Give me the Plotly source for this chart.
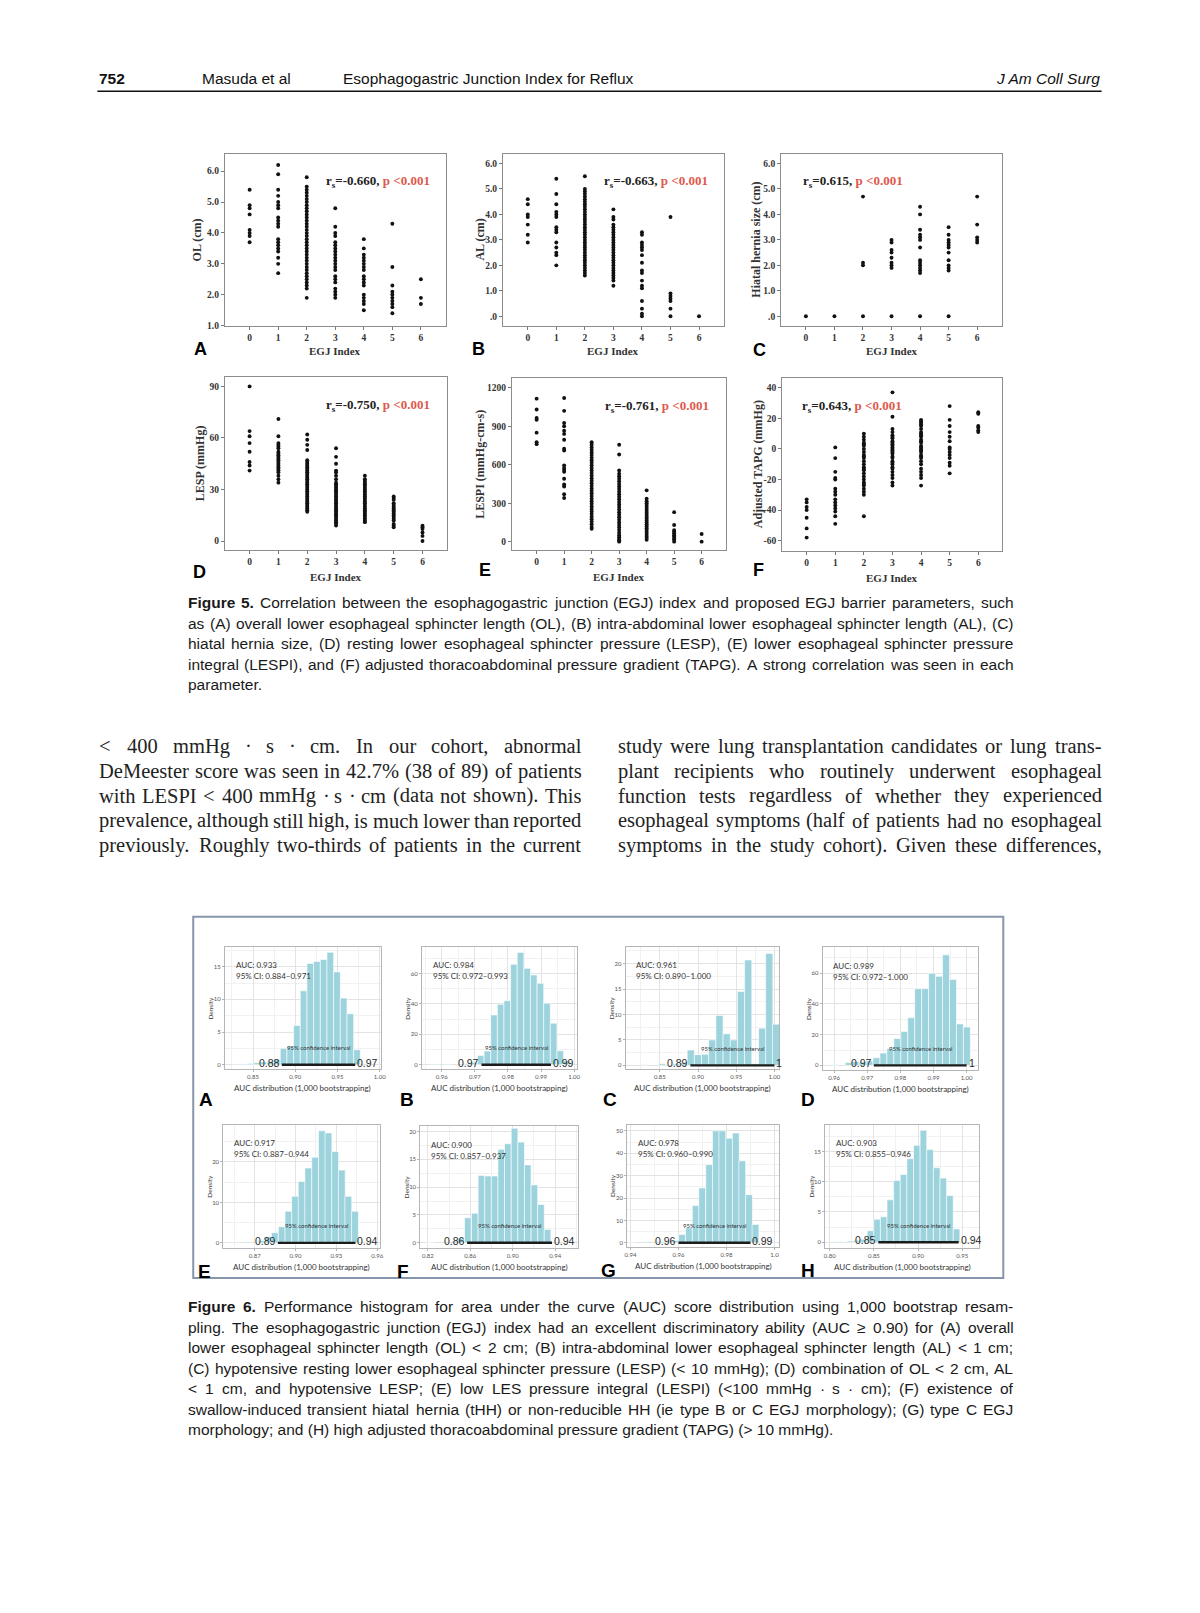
import plotly.graph_objects as go

W, H = 1200, 1613


def fx(x):
    return x / W


def fy(y):
    return 1 - y / H


# ------------------------------------------------------------------ Figure 5 data
EGJ_INDEX = [0, 1, 2, 3, 4, 5, 6]

OL_CM = [
    [5.4, 4.9, 4.8, 4.6, 4.1, 4.0, 3.9, 3.7],
    [6.2, 5.9, 5.4, 5.2, 5.0, 4.9, 4.8, 4.5, 4.4, 4.3, 4.2, 3.8, 3.7, 3.6, 3.5, 3.4, 3.2, 3.0, 2.7],
    [5.8, 5.5, 5.4, 5.3, 5.2, 5.1, 5.0, 4.9, 4.8, 4.7, 4.6, 4.5, 4.4, 4.3, 4.2, 4.1, 4.0, 3.9, 3.8, 3.7,
     3.6, 3.5, 3.4, 3.3, 3.2, 3.1, 3.0, 2.9, 2.8, 2.7, 2.6, 2.5, 2.4, 2.3, 2.2, 1.9],
    [4.8, 4.2, 4.0, 3.9, 3.7, 3.6, 3.5, 3.4, 3.3, 3.2, 3.1, 3.0, 2.9, 2.8, 2.6, 2.5, 2.4, 2.2, 2.1, 2.0, 1.9],
    [3.8, 3.5, 3.3, 3.2, 3.1, 3.0, 2.9, 2.8, 2.6, 2.5, 2.4, 2.3, 2.0, 1.9, 1.8, 1.7, 1.5],
    [4.3, 2.9, 2.3, 2.1, 2.0, 1.9, 1.8, 1.7, 1.6, 1.4],
    [2.5, 1.9, 1.7],
]
AL_CM = [
    [4.6, 4.4, 4.0, 3.9, 3.6, 3.2, 2.9],
    [5.4, 4.8, 4.4, 4.1, 4.0, 3.9, 3.5, 3.4, 3.3, 2.9, 2.7, 2.5, 2.4, 2.0],
    [5.5, 5.0, 4.9, 4.8, 4.7, 4.6, 4.5, 4.4, 4.3, 4.2, 4.1, 4.0, 3.9, 3.8, 3.7, 3.6, 3.5, 3.4, 3.3, 3.2,
     3.1, 3.0, 2.9, 2.8, 2.7, 2.6, 2.5, 2.4, 2.3, 2.2, 2.1, 2.0, 1.9, 1.8, 1.7, 1.6],
    [4.2, 3.9, 3.8, 3.6, 3.5, 3.4, 3.3, 3.2, 3.1, 3.0, 2.9, 2.8, 2.7, 2.6, 2.5, 2.4, 2.3, 2.2, 2.1, 2.0,
     1.9, 1.8, 1.7, 1.6, 1.5, 1.4, 1.2],
    [3.3, 3.2, 2.9, 2.8, 2.7, 2.6, 2.4, 2.1, 1.8, 1.7, 1.4, 1.2, 1.1, 0.6, 0.3, 0.1, 0.0],
    [3.9, 0.9, 0.8, 0.7, 0.6, 0.3, 0.0],
    [0.0],
]
HH_CM = [
    [0.0],
    [0.0],
    [4.7, 2.1, 2.0, 0.0],
    [3.0, 2.9, 2.6, 2.5, 2.3, 2.1, 2.0, 1.9, 0.0],
    [4.3, 4.0, 3.4, 3.2, 3.1, 3.0, 2.7, 2.2, 2.1, 2.0, 1.9, 1.8, 1.7, 0.0],
    [3.5, 3.2, 3.0, 2.9, 2.8, 2.7, 2.5, 2.2, 2.0, 1.9, 1.8, 0.0],
    [4.7, 3.6, 3.1, 3.0, 2.9],
]
LESP_MMHG = [
    [90, 64, 61, 57, 52, 46, 44, 41],
    [71, 61, 57, 56, 55, 54, 52, 51, 50, 49, 48, 47, 46, 45, 44, 43, 42, 41, 40, 38, 36, 34],
    [62, 59, 56, 53, 47, 46, 45, 44, 43, 42, 41, 40, 39, 38, 37, 36, 35, 34, 33, 32, 31, 30, 29, 28, 27,
     26, 25, 24, 23, 22, 21, 20, 19, 18, 17],
    [54, 49, 45, 41, 40, 38, 36, 34, 33, 32, 31, 30, 29, 28, 27, 26, 25, 24, 23, 22, 21, 20, 19, 18, 17,
     16, 15, 14, 13, 12, 11, 10, 9],
    [38, 36, 35, 34, 33, 32, 31, 30, 29, 28, 27, 26, 25, 24, 23, 22, 21, 20, 19, 18, 17, 16, 15, 14, 13, 12, 11],
    [26, 25, 24, 22, 21, 20, 19, 18, 17, 16, 15, 14, 13, 12, 10, 9, 8],
    [9, 8, 7, 5, 3, 0],
]
LESPI_MMHG_CM_S = [
    [1115, 1030, 965, 950, 850, 775, 760],
    [1120, 1020, 925, 900, 865, 840, 795, 725, 710, 595, 575, 560, 545, 490, 445, 430, 370, 340],
    [775, 755, 735, 715, 695, 675, 655, 635, 615, 595, 575, 555, 535, 515, 495, 475, 455, 435, 415, 395,
     375, 355, 335, 315, 295, 275, 255, 235, 215, 195, 175, 155, 135, 115, 100],
    [755, 680, 555, 530, 510, 490, 470, 450, 430, 410, 390, 370, 350, 330, 310, 290, 270, 250, 230, 210,
     190, 170, 150, 130, 110, 90, 70, 50, 35, 20, 10, 0],
    [400, 335, 315, 300, 285, 270, 255, 240, 225, 210, 195, 180, 165, 150, 135, 120, 105, 90, 75, 60, 45, 30, 15],
    [230, 130, 90, 80, 65, 50, 40, 25, 15, 0],
    [60, 0],
]
TAPG_MMHG = [
    [-33, -35, -38, -40, -45, -52, -58],
    [1, -6, -15, -19, -20, -26, -28, -30, -33, -35, -37, -39, -41, -44, -49],
    [10, 8, 6, 4, 3, 2, 0, -2, -4, -5, -6, -8, -10, -12, -13, -14, -16, -18, -20, -22, -23, -24, -26,
     -28, -30, -44],
    [37, 21, 13, 11, 9, 8, 7, 5, 4, 3, 2, 1, 0, -1, -2, -3, -5, -6, -8, -9, -10, -12, -13, -15, -17,
     -19, -22, -24],
    [19, 18, 17, 16, 15, 13, 11, 10, 9, 8, 6, 5, 4, 2, 1, 0, -1, -2, -4, -5, -6, -8, -10, -13, -15,
     -17, -19, -24],
    [28, 19, 15, 11, 8, 5, 1, 0, -2, -4, -6, -9, -11, -16],
    [24, 23, 15, 14, 12, 11],
]

FIG5_YTITLES = ["OL (cm)", "AL (cm)", "Hiatal hernia size (cm)", "LESP (mmHg)",
                "LESPI (mmHg-cm-s)", "Adjusted TAPG (mmHg)"]
FIG5_RS = ["-0.660", "-0.663", "0.615", "-0.750", "-0.761", "0.643"]
FIG5_P = ["&lt;0.001"] * 6
FIG5_LETTERS = ["A", "B", "C", "D", "E", "F"]
FIG5_YTICKS = [
    [1, 2, 3, 4, 5, 6], [0, 1, 2, 3, 4, 5, 6], [0, 1, 2, 3, 4, 5, 6],
    [0, 30, 60, 90], [0, 300, 600, 900, 1200], [-60, -40, -20, 0, 20, 40],
]
FIG5_YTICKTEXT = [
    ["1.0", "2.0", "3.0", "4.0", "5.0", "6.0"],
    [".0", "1.0", "2.0", "3.0", "4.0", "5.0", "6.0"],
    [".0", "1.0", "2.0", "3.0", "4.0", "5.0", "6.0"],
    ["0", "30", "60", "90"], ["0", "300", "600", "900", "1200"],
    ["-60", "-40", "-20", "0", "20", "40"],
]

# ------------------------------------------------------------------ Figure 6 data
AUC = ["0.933", "0.984", "0.961", "0.989", "0.917", "0.900", "0.978", "0.903"]
CI_TEXT = ["0.884–0.971", "0.972–0.993", "0.890–1.000", "0.972–1.000",
           "0.887–0.944", "0.857–0.937", "0.960–0.990", "0.855–0.946"]
CI_LOW = [0.884, 0.972, 0.890, 0.972, 0.887, 0.857, 0.960, 0.855]
CI_HIGH = [0.971, 0.993, 1.000, 1.000, 0.944, 0.937, 0.990, 0.946]
CI_LOW_LABEL = ["0.88", "0.97", "0.89", "0.97", "0.89", "0.86", "0.96", "0.85"]
CI_HIGH_LABEL = ["0.97", "0.99", "1", "1", "0.94", "0.94", "0.99", "0.94"]
FIG6_LETTERS = ["A", "B", "C", "D", "E", "F", "G", "H"]

BIN_WIDTH = [0.0079, 0.002, 0.0094, 0.0021, 0.005, 0.00624, 0.00283, 0.0075]
BIN_CENTERS = [
    [0.8309, 0.8388, 0.8467, 0.8546, 0.8625, 0.8704, 0.8783, 0.8862, 0.8941, 0.9020, 0.9099, 0.9178,
     0.9257, 0.9336, 0.9415, 0.9494, 0.9573, 0.9652, 0.9731],
    [0.9578, 0.9618, 0.9678, 0.9698, 0.9718, 0.9738, 0.9758, 0.9778, 0.9798, 0.9818, 0.9838, 0.9858,
     0.9878, 0.9898, 0.9918, 0.9938, 0.9958, 0.9978],
    [0.8295, 0.8530, 0.8717, 0.8811, 0.8905, 0.8999, 0.9093, 0.9187, 0.9281, 0.9375, 0.9469, 0.9563,
     0.9657, 0.9749, 0.9841, 0.9933, 1.0023],
    [0.9602, 0.9644, 0.9665, 0.9686, 0.9707, 0.9728, 0.9749, 0.9770, 0.9791, 0.9812, 0.9833, 0.9854,
     0.9875, 0.9896, 0.9917, 0.9938, 0.9959, 0.9980, 1.0001],
    [0.8554, 0.8700, 0.8750, 0.8799, 0.8848, 0.8899, 0.8948, 0.8997, 0.9045, 0.9094, 0.9144, 0.9194,
     0.9242, 0.9291, 0.9340, 0.9388, 0.9437],
    [0.8220, 0.8452, 0.8515, 0.8577, 0.8643, 0.8705, 0.8767, 0.8830, 0.8892, 0.8954, 0.9017, 0.9079,
     0.9141, 0.9204, 0.9266, 0.9328],
    [0.9407, 0.9476, 0.9545, 0.9587, 0.9615, 0.9644, 0.9672, 0.9699, 0.9728, 0.9756, 0.9783, 0.9811,
     0.9839, 0.9866, 0.9894, 0.9921],
    [0.8086, 0.8236, 0.8311, 0.8386, 0.8461, 0.8536, 0.8611, 0.8686, 0.8761, 0.8836, 0.8911, 0.8986,
     0.9061, 0.9136, 0.9211, 0.9286, 0.9361, 0.9436],
]
BIN_DENSITY = [
    [0.1, 0.1, 0.2, 0.3, 0.4, 0.5, 0.8, 2.5, 2.8, 6.0, 11.3, 15.5, 15.8, 16.1, 17.2, 14.2, 10.2, 7.8, 2.3],
    [0.5, 0.5, 0.8, 1.5, 6.0, 9.0, 32.7, 39.7, 42.0, 66.0, 73.8, 63.3, 59.0, 53.5, 40.4, 27.3, 9.2, 2.5],
    [0.1, 0.3, 0.3, 0.5, 3.0, 2.1, 2.2, 5.0, 9.8, 6.2, 5.0, 14.5, 20.7, 0.3, 7.3, 22.0, 8.1],
    [0.4, 1.8, 2.6, 2.0, 3.0, 5.0, 8.0, 11.0, 17.5, 22.0, 31.0, 50.0, 50.0, 60.0, 58.0, 72.0, 56.0, 27.0, 25.0],
    [0.2, 0.3, 0.5, 1.5, 2.5, 4.0, 7.8, 11.5, 15.2, 18.5, 21.2, 27.7, 27.2, 22.6, 18.0, 11.5, 7.8],
    [0.1, 0.3, 0.8, 4.5, 5.3, 12.1, 12.0, 12.0, 16.8, 17.8, 20.6, 18.1, 14.0, 10.4, 6.9, 2.4],
    [0.3, 0.5, 0.5, 1.0, 3.7, 6.7, 16.6, 24.5, 34.9, 50.0, 50.0, 46.7, 49.0, 36.6, 21.5, 8.2],
    [0.1, 0.2, 0.3, 0.5, 1.9, 3.8, 4.2, 7.0, 10.2, 11.2, 13.8, 16.0, 18.5, 15.3, 12.3, 10.6, 7.7, 2.2],
]
FIG6_XTICKS = [
    [0.85, 0.90, 0.95, 1.00], [0.96, 0.97, 0.98, 0.99, 1.00], [0.85, 0.90, 0.95, 1.00],
    [0.96, 0.97, 0.98, 0.99, 1.00], [0.87, 0.90, 0.93, 0.96], [0.82, 0.86, 0.90, 0.94],
    [0.94, 0.96, 0.98, 1.0], [0.80, 0.85, 0.90, 0.95],
]
FIG6_XTICKTEXT = [
    ["0.85", "0.90", "0.95", "1.00"], ["0.96", "0.97", "0.98", "0.99", "1.00"],
    ["0.85", "0.90", "0.95", "1.00"], ["0.96", "0.97", "0.98", "0.99", "1.00"],
    ["0.87", "0.90", "0.93", "0.96"], ["0.82", "0.86", "0.90", "0.94"],
    ["0.94", "0.96", "0.98", "1.0"], ["0.80", "0.85", "0.90", "0.95"],
]
FIG6_YTICKS = [
    [0, 5, 10, 15], [0, 20, 40, 60], [0, 5, 10, 15, 20], [0, 20, 40, 60],
    [0, 10, 20], [0, 5, 10, 15, 20], [0, 10, 20, 30, 40, 50], [0, 5, 10, 15],
]

# ------------------------------------------------------------------ text
HEADER_LEFT = [("<b>752</b>", 95), ("Masuda et al", 198), ("Esophagogastric Junction Index for Reflux", 340)]
HEADER_RIGHT = "<i>J Am Coll Surg</i>"

FIG5_CAPTION = [
    "Figure 5. Correlation between the esophagogastric junction (EGJ) index and proposed EGJ barrier parameters, such",
    "as (A) overall lower esophageal sphincter length (OL), (B) intra-abdominal lower esophageal sphincter length (AL), (C)",
    "hiatal hernia size, (D) resting lower esophageal sphincter pressure (LESP), (E) lower esophageal sphincter pressure",
    "integral (LESPI), and (F) adjusted thoracoabdominal pressure gradient (TAPG). A strong correlation was seen in each",
    "parameter.",
]
BODY_LEFT = [
    "< 400 mmHg · s · cm. In our cohort, abnormal",
    "DeMeester score was seen in 42.7% (38 of 89) of patients",
    "with LESPI < 400 mmHg · s · cm (data not shown). This",
    "prevalence, although still high, is much lower than reported",
    "previously. Roughly two-thirds of patients in the current",
]
BODY_RIGHT = [
    "study were lung transplantation candidates or lung trans-",
    "plant recipients who routinely underwent esophageal",
    "function tests regardless of whether they experienced",
    "esophageal symptoms (half of patients had no esophageal",
    "symptoms in the study cohort). Given these differences,",
]
FIG6_CAPTION = [
    "Figure 6. Performance histogram for area under the curve (AUC) score distribution using 1,000 bootstrap resam-",
    "pling. The esophagogastric junction (EGJ) index had an excellent discriminatory ability (AUC ≥ 0.90) for (A) overall",
    "lower esophageal sphincter length (OL) < 2 cm; (B) intra-abdominal lower esophageal sphincter length (AL) < 1 cm;",
    "(C) hypotensive resting lower esophageal sphincter pressure (LESP) (< 10 mmHg); (D) combination of OL < 2 cm, AL",
    "< 1 cm, and hypotensive LESP; (E) low LES pressure integral (LESPI) (<100 mmHg · s · cm); (F) existence of",
    "swallow-induced transient hiatal hernia (tHH) or non-reducible HH (ie type B or C EGJ morphology); (G) type C EGJ",
    "morphology; and (H) high adjusted thoracoabdominal pressure gradient (TAPG) (> 10 mmHg).",
]

# ------------------------------------------------------------------ font metrics (per 1000 em) for justification
SANS_W = {' ': 278, '%': 889, '(': 333, ')': 333, ',': 278, '-': 333, '.': 278, ':': 278, ';': 278,
          '<': 584, '>': 584, '≥': 549, '·': 278, '–': 556, '/': 278}
for c in "0123456789":
    SANS_W[c] = 556
SANS_W.update(dict(zip("ABCDEFGHIJKLMNOPQRSTUVWXYZ",
                       [667, 667, 722, 722, 667, 611, 778, 722, 278, 500, 667, 556, 833, 722, 778, 667,
                        778, 722, 667, 611, 722, 667, 944, 667, 667, 611])))
SANS_W.update(dict(zip("abcdefghijklmnopqrstuvwxyz",
                       [556, 556, 500, 556, 556, 278, 556, 556, 222, 222, 500, 222, 833, 556, 556, 556,
                        556, 333, 500, 278, 556, 500, 722, 500, 500, 500])))
SANS_BOLD_W = dict(SANS_W)
SANS_BOLD_W.update({'i': 278, 'g': 611, 'u': 611, 'r': 389, 'F': 611})

SERIF_W = {' ': 250, '%': 833, '(': 333, ')': 333, ',': 250, '-': 333, '.': 250, ':': 278, ';': 278,
           '<': 564, '·': 250}
for c in "0123456789":
    SERIF_W[c] = 500
SERIF_W.update(dict(zip("ABCDEFGHIJKLMNOPQRSTUVWXYZ",
                        [722, 667, 667, 722, 611, 556, 722, 722, 333, 389, 722, 611, 889, 722, 722, 556,
                         722, 667, 556, 611, 722, 722, 944, 722, 722, 611])))
SERIF_W.update(dict(zip("abcdefghijklmnopqrstuvwxyz",
                        [444, 500, 444, 500, 444, 333, 500, 500, 278, 278, 500, 278, 778, 500, 500, 500,
                         500, 333, 389, 278, 500, 500, 722, 500, 500, 444])))

# ------------------------------------------------------------------ layout geometry (pixels)
FIG5_BOX = [  # left, right, top, bottom
    (223.3, 445.7, 154.3, 326.7), (503.3, 725.7, 154.3, 326.7), (783.3, 1005.7, 154.3, 326.7),
    (223.3, 446.7, 378.3, 551.7), (512.3, 727.7, 379.3, 551.7), (784.3, 1005.7, 379.3, 552.3),
]
FIG5_XR = [[-0.87, 6.87], [-0.87, 6.87], [-0.87, 6.87], [-0.86, 6.84], [-0.90, 6.88], [-0.86, 6.83]]
FIG5_YR = [[1.0, 6.56], [-0.37, 6.38], [-0.37, 6.38], [-5.2, 95.4], [-65, 1275], [-66.5, 46.3]]
FIG5_YTITLE_X = [195, 480, 758, 198, 480, 760]
FIG5_XTITLE_DY = [25, 25, 25, 27, 27, 27]
FIG5_RS_POS = [(323, 182), (603, 182), (803, 182), (323, 407), (604, 407.5), (802, 407.5)]
FIG5_LETTER_POS = [(198.5, 350), (478.5, 350), (761.5, 351), (198, 574), (485, 572), (760.5, 572)]

FIG6_BOX = [
    (223.3, 380.7, 949.7, 1072), (421.7, 578.3, 949.7, 1072), (626.7, 781.7, 949.7, 1072),
    (825, 981.7, 950.3, 1073), (221.7, 380, 1128.3, 1251.7), (420, 579.3, 1130, 1251.7),
    (628.3, 781.7, 1128.3, 1250.7), (827.7, 982.7, 1128.3, 1251.7),
]
FIG6_XR = [[0.8166, 1.0017], [0.954, 1.001], [0.805, 1.0067], [0.9565, 1.0035],
           [0.8469, 0.9624], [0.8128, 0.9619], [0.9386, 1.0021], [0.7948, 0.9692]]
FIG6_YR = [[-0.61, 18.05], [-2.6, 77.5], [-0.65, 23.3], [-2.8, 76.9],
           [-1.23, 29.2], [-0.9, 20.9], [-1.8, 52.7], [-0.93, 19.4]]
FIG6_LETTER_POS = [(204.5, 1103), (406.5, 1103), (611.5, 1103), (810, 1103),
                   (202.5, 1275), (403, 1275), (610, 1274), (810, 1274)]

# ------------------------------------------------------------------ build
fig = go.Figure()
layout = {}
annotations = []
shapes = []
counter = [0]

SERIF = "Liberation Serif"
SANS = "Liberation Sans"
HISTF = "Lato"


def next_axes():
    counter[0] += 1
    n = counter[0]
    s = "" if n == 1 else str(n)
    return "x" + s, "y" + s, "xaxis" + s, "yaxis" + s


def esc(t):
    return t.replace("&", "&amp;").replace("<", "&lt;").replace(">", "&gt;")


def ann(text, x, y, size, family=SANS, color="#1a1a1a", xanchor="left", yanchor="middle", **kw):
    d = dict(text=text, x=fx(x), y=fy(y), xref="paper", yref="paper", showarrow=False,
             xanchor=xanchor, yanchor=yanchor, font=dict(size=size, family=family, color=color))
    d.update(kw)
    annotations.append(d)


def text_width(word, table, size):
    return sum(table.get(c, 500) for c in word) * size / 1000.0


def justified(lines, x0, x1, y0, dy, size, family, table, color, bold_first=0, last_left=False,
              bold_table=None):
    for k, line in enumerate(lines):
        y = y0 + dy * k
        words = line.split(" ")
        if last_left and k == len(lines) - 1:
            ann(esc(line), x0, y, size, family=family, color=color, borderpad=0)
            continue
        widths = []
        for j, w in enumerate(words):
            bold = (k == 0 and j < bold_first)
            widths.append(text_width(w, bold_table if (bold and bold_table) else table, size))
        gap = (x1 - x0 - sum(widths)) / max(len(words) - 1, 1)
        x = x0
        for j, w in enumerate(words):
            bold = (k == 0 and j < bold_first)
            t = "<b>" + esc(w) + "</b>" if bold else esc(w)
            ann(t, x, y, size, family=family, color=color, borderpad=0)
            x += widths[j] + gap


# header
for t, x in HEADER_LEFT:
    ann(t, x, 79, 15.5, color="#111")
ann(HEADER_RIGHT, 1106, 79, 15.5, color="#111", xanchor="right")
shapes.append(dict(type="line", xref="paper", yref="paper", x0=fx(95), x1=fx(1106), y0=fy(91.5), y1=fy(91.5),
                   line=dict(color="#111", width=1.6)))

# Figure 5 panels
FIG5_DATA = [OL_CM, AL_CM, HH_CM, LESP_MMHG, LESPI_MMHG_CM_S, TAPG_MMHG]
for i, data in enumerate(FIG5_DATA):
    xa, ya, xk, yk = next_axes()
    l, r, t, b = FIG5_BOX[i]
    xs, ys = [], []
    for idx, vals in zip(EGJ_INDEX, data):
        xs += [idx] * len(vals)
        ys += vals
    fig.add_trace(go.Scatter(x=xs, y=ys, mode="markers", xaxis=xa, yaxis=ya, showlegend=False,
                             hoverinfo="skip", marker=dict(size=3.9, color="#111")))
    common = dict(showline=True, mirror=True, linecolor="#8c8c8c", linewidth=1, showgrid=False,
                  zeroline=False, ticks="outside", ticklen=3, tickcolor="#777",
                  tickfont=dict(family=SERIF, size=9.5, color="#333", weight="bold"), fixedrange=True)
    layout[xk] = dict(domain=[fx(l), fx(r)], range=FIG5_XR[i], anchor=ya, tickmode="array",
                      tickvals=EGJ_INDEX, ticktext=[str(v) for v in EGJ_INDEX], **common)
    layout[yk] = dict(domain=[fy(b), fy(t)], range=FIG5_YR[i], anchor=xa, tickmode="array",
                      tickvals=FIG5_YTICKS[i], ticktext=FIG5_YTICKTEXT[i], **common)
    ann("<b>EGJ Index</b>", (l + r) / 2, b + FIG5_XTITLE_DY[i], 11, family=SERIF, color="#333",
        xanchor="center")
    ann("<b>" + FIG5_YTITLES[i] + "</b>", FIG5_YTITLE_X[i], (t + b) / 2, 12, family=SERIF, color="#333",
        xanchor="center", textangle=-90)
    rx, ry = FIG5_RS_POS[i]
    ann("<b>r<sub>s</sub>=" + FIG5_RS[i] + ", <span style='color:#e0584c'>p " + FIG5_P[i] + "</span></b>",
        rx, ry, 13, family=SERIF, color="#222")
    lx, ly = FIG5_LETTER_POS[i]
    ann("<b>" + FIG5_LETTERS[i] + "</b>", lx, ly, 18, color="#000", xanchor="center")

# Figure 5 caption
justified(FIG5_CAPTION, 185, 1016, 604.5, 20.6, 15.5, SANS, SANS_W, "#1a1a1a", bold_first=2,
          last_left=True, bold_table=SANS_BOLD_W)

# body text
justified(BODY_LEFT, 96, 581, 748.5, 24.9, 20.5, SERIF, SERIF_W, "#222")
justified(BODY_RIGHT, 618, 1104.5, 748.5, 24.9, 20.5, SERIF, SERIF_W, "#222")

# Figure 6 frame
shapes.append(dict(type="rect", xref="paper", yref="paper", x0=fx(191.5), x1=fx(1007), y0=fy(1282),
                   y1=fy(919.5), line=dict(color="#8896ab", width=2), fillcolor="rgba(0,0,0,0)"))


def minor_vals(ticks, rng):
    step = ticks[1] - ticks[0]
    cand = [ticks[0] - step / 2] + [v + step / 2 for v in ticks]
    return [v for v in cand if rng[0] < v < rng[1]]


for i in range(8):
    xa, ya, xk, yk = next_axes()
    l, r, t, b = FIG6_BOX[i]
    fig.add_trace(go.Bar(x=BIN_CENTERS[i], y=BIN_DENSITY[i], width=BIN_WIDTH[i], xaxis=xa, yaxis=ya,
                         showlegend=False, hoverinfo="skip",
                         marker=dict(color="#9cd3dd", line=dict(color="#ffffff", width=0.6))))
    fig.add_trace(go.Scatter(x=[CI_LOW[i], CI_HIGH[i]], y=[0, 0], mode="lines", xaxis=xa, yaxis=ya,
                             showlegend=False, hoverinfo="skip", line=dict(color="#1c1c1c", width=2.4)))
    common = dict(showline=True, mirror=True, linecolor="#b5b5b5", linewidth=0.8, showgrid=True,
                  gridcolor="#e3e3e3", gridwidth=0.6, zeroline=False, ticks="outside", ticklen=2,
                  tickcolor="#b5b5b5", tickfont=dict(family=HISTF, size=6, color="#555"), fixedrange=True)
    layout[xk] = dict(domain=[fx(l), fx(r)], range=FIG6_XR[i], anchor=ya, tickmode="array",
                      tickvals=FIG6_XTICKS[i], ticktext=FIG6_XTICKTEXT[i],
                      minor=dict(tickvals=minor_vals(FIG6_XTICKS[i], FIG6_XR[i]), showgrid=True,
                                 gridcolor="#f1f1f1", gridwidth=0.5, ticks=""), **common)
    layout[yk] = dict(domain=[fy(b), fy(t)], range=FIG6_YR[i], anchor=xa, tickmode="array",
                      tickvals=FIG6_YTICKS[i], ticktext=[str(v) for v in FIG6_YTICKS[i]],
                      minor=dict(tickvals=minor_vals(FIG6_YTICKS[i], FIG6_YR[i]), showgrid=True,
                                 gridcolor="#f1f1f1", gridwidth=0.5, ticks=""), **common)
    ann("AUC: " + AUC[i], l + 9, t + 18.5, 8, family=HISTF, color="#333")
    ann("95% CI: " + CI_TEXT[i], l + 9, t + 29.5, 8, family=HISTF, color="#333")
    ann("Density", l - 14, (t + b) / 2, 6.5, family=HISTF, color="#333", xanchor="center", textangle=-90)
    ann("AUC distribution (1,000 bootstrapping)", (l + r) / 2, b + 19.5, 8, family=HISTF, color="#333",
        xanchor="center")
    # CI labels, in data coordinates
    annotations.append(dict(text=CI_LOW_LABEL[i], x=CI_LOW[i], y=0, xref=xa, yref=ya, showarrow=False,
                            xanchor="right", yanchor="middle", yshift=2,
                            font=dict(size=10.5, family=SANS, color="#2a2a2a")))
    annotations.append(dict(text=CI_HIGH_LABEL[i], x=CI_HIGH[i], y=0, xref=xa, yref=ya, showarrow=False,
                            xanchor="left", yanchor="middle", yshift=2,
                            font=dict(size=10.5, family=SANS, color="#2a2a2a")))
    annotations.append(dict(text="95% confidence interval", x=(CI_LOW[i] + CI_HIGH[i]) / 2,
                            y=FIG6_YR[i][1] * 0.145, xref=xa, yref=ya, showarrow=False,
                            xanchor="center", yanchor="middle",
                            font=dict(size=6, family=HISTF, color="#333")))
    lx, ly = FIG6_LETTER_POS[i]
    ann("<b>" + FIG6_LETTERS[i] + "</b>", lx, ly, 19, color="#000", xanchor="center")

# Figure 6 caption
justified(FIG6_CAPTION, 185, 1016, 1311, 20.55, 15.5, SANS, SANS_W, "#1a1a1a", bold_first=2,
          last_left=True, bold_table=SANS_BOLD_W)

fig.update_layout(
    width=W, height=H, autosize=False,
    margin=dict(l=0, r=0, t=0, b=0, pad=0),
    paper_bgcolor="white", plot_bgcolor="white",
    showlegend=False, annotations=annotations, shapes=shapes, **layout,
)

fig.write_html("out.html", config={"displayModeBar": False},
               post_script="document.body.style.margin='0';document.body.style.overflow='hidden';")
